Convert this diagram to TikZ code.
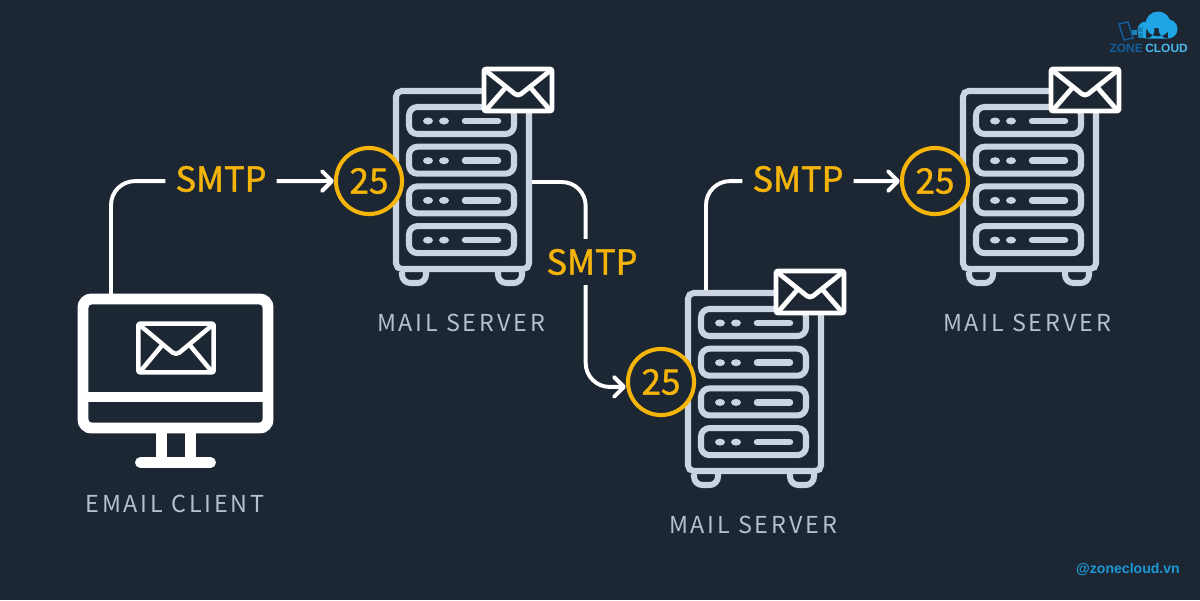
\documentclass[tikz,border=0pt]{standalone}
\usepackage{fontspec}
\setmainfont{Noto Sans CJK SC}
\newfontfamily\lblfont[LetterSpace=12]{Noto Sans CJK SC}
\newfontfamily\protofont[FakeBold=1.2]{Noto Sans CJK SC}
\newfontfamily\brandfont{Liberation Sans}
\usetikzlibrary{arrows.meta}
\definecolor{bgdark}{HTML}{1C2733}
\definecolor{srvgray}{HTML}{CBD5E1}
\definecolor{lblgray}{HTML}{B4C0CE}
\definecolor{portyellow}{HTML}{F4B40A}
\definecolor{brandblue}{HTML}{1D9AD6}
\definecolor{zoneblue}{HTML}{125E9E}
\definecolor{cloudblue}{HTML}{1FA5E6}
\tikzset{
  x=0.025cm, y=-0.025cm,
  wire/.style={draw=white,line width=2.8pt,rounded corners=17pt},
  arrowwire/.style={wire,-{Straight Barb[length=7pt,width=14pt,line width=2.8pt,round]}},
  proto/.style={text=portyellow,font=\fontsize{24.5}{25}\selectfont\protofont,inner sep=0pt},
  port/.style={draw=portyellow,line width=2.9pt,fill=bgdark,circle,minimum size=47pt,inner sep=0pt,
    text=portyellow,font=\fontsize{25}{25}\selectfont\protofont},
  hostlbl/.style={text=lblgray,font=\fontsize{16.6}{17}\selectfont\lblfont,inner sep=0pt},
  envelope/.pic={
    \draw[white,line width=#1,fill=bgdark,rounded corners=1.5pt] (-34,-21) rectangle (34,21);
    \draw[white,line width=#1,line join=round] (-33,-20) -- (-3,4) -- (0,5) -- (3,4) -- (33,-20);
    \draw[white,line width=#1] (-32,20) -- (-12,-3) (32,20) -- (12,-3);
  },
  server/.pic={
    \draw[srvgray,line width=4.3pt,rounded corners=4pt] (3,3) rectangle (136,181);
    \foreach \f in {9,105}
      \draw[srvgray,line width=4.3pt,rounded corners=6pt] (\f,184) -- (\f,195) -- (\f+24,195) -- (\f+24,184);
    \foreach \r in {0,1,2,3} {
      \draw[srvgray,line width=4.3pt,rounded corners=6pt] (16,19+39.7*\r) rectangle (121,46+39.7*\r);
      \fill[srvgray] (35,33+39.7*\r) ellipse (5 and 3.5) (51,33+39.7*\r) ellipse (5 and 3.5);
      \draw[srvgray,line width=4.6pt,line cap=round] (72,33+39.7*\r) -- (105,33+39.7*\r);
    }
    \pic at (125,2) {envelope=3.4pt};
    \coordinate (-east) at (139,94);
    \coordinate (-top) at (21,0);
  },
}
\begin{document}
\begin{tikzpicture}
\fill[bgdark] (0,0) rectangle (1200,600);
\useasboundingbox (0,0) rectangle (1200,600);

% client monitor
\draw[white,line width=7.8pt,rounded corners=6pt] (83,299) rectangle (268,428);
\draw[white,line width=7.8pt] (83,397) -- (268,397);
\draw[white,line width=7.8pt] (161.5,430) -- (161.5,460) (190.5,430) -- (190.5,460);
\draw[white,line width=7.8pt,line cap=round] (140.5,462.5) -- (210.5,462.5);
\pic[xscale=1.11,yscale=1.16] at (176,348) {envelope=3.2pt};
\coordinate (clienttop) at (111,295);
\node[hostlbl] (clientlbl) at (175,504) {EMAIL CLIENT};

% servers
\pic (srvA) at (393,88) {server};
\pic (srvB) at (685,290) {server};
\pic (srvC) at (960,88) {server};
\node[hostlbl] (lblA) at (461,323) {MAIL SERVER};
\node[hostlbl] (lblB) at (753,525) {MAIL SERVER};
\node[hostlbl] (lblC) at (1027,323) {MAIL SERVER};

% ports
\node[port] (portA) at (369,181) {25};
\node[port] (portB) at (661,382) {25};
\node[port] (portC) at (935,181) {25};

% protocol labels
\node[proto] (smtpA) at (221,179) {SMTP};
\node[proto] (smtpB) at (592,262) {SMTP};
\node[proto] (smtpC) at (798,179) {SMTP};

\draw[wire] (clienttop) |- ([xshift=-7pt,yshift=-1.5pt]smtpA.west);
\draw[arrowwire] ([xshift=7pt,yshift=-1.5pt]smtpA.east) -- (portA.west);
\draw[wire] (srvA-east) -| ([xshift=-4.5pt,yshift=7pt]smtpB.north);
\draw[arrowwire] ([xshift=-4.5pt,yshift=-7pt]smtpB.south) |- ([yshift=-3.5pt]portB.west);
\draw[wire] (srvB-top) |- ([xshift=-7pt,yshift=-1.5pt]smtpC.west);
\draw[arrowwire] ([xshift=7pt,yshift=-1.5pt]smtpC.east) -- (portC.west);

% brand
\node[text=brandblue,font=\fontsize{10}{10}\selectfont\brandfont\bfseries,inner sep=0pt] (brandtxt) at (1128,570) {@zonecloud.vn};
\fill[cloudblue] (1158,24) circle (12.5) (1146,30) circle (8.5) (1168,29) circle (9.5) (1146,28) rectangle (1168,38.5);
\foreach \sx/\sy in {1138/27,1138/33,1132/30}
  \fill[cloudblue!80!black] (\sx,\sy) rectangle ++(5,5);
\draw[zoneblue,line width=1pt] (1119,24) -- (1128,22) -- (1133,38) -- (1124,40) -- cycle;
\node[text=zoneblue,font=\fontsize{8.5}{9}\selectfont\brandfont\bfseries,inner sep=0pt,anchor=east] (zonetxt) at (1143,48) {ZONE};
\node[text=cloudblue!80!white,font=\fontsize{8.5}{9}\selectfont\brandfont\bfseries,inner sep=0pt,anchor=west] (cloudtxt) at (zonetxt.east) {\,CLOUD};
\end{tikzpicture}
\end{document}
